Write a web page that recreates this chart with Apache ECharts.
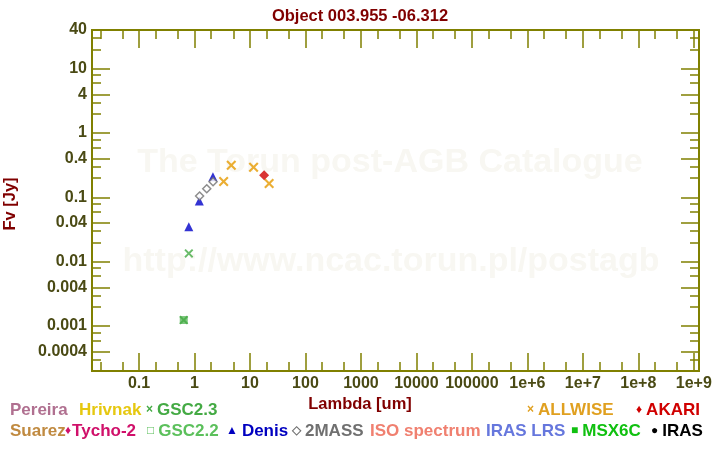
<!DOCTYPE html>
<html><head><meta charset="utf-8">
<script src="https://cdn.jsdelivr.net/npm/echarts@6/dist/echarts.min.js"></script>
<style>html,body{margin:0;padding:0;background:#fff}#c{width:720px;height:450px}</style>
</head><body><div id="c"></div>
<script>
// ---- data ----
const titleText = 'Object 003.955 -06.312';
const xAxisTitle = 'Lambda [um]';
const yAxisTitle = 'Fv [Jy]';
const xTickValues = [0.1, 1, 10, 100, 1000, 1e4, 1e5, 1e6, 1e7, 1e8, 1e9];
const xTickLabels = ['0.1', '1', '10', '100', '1000', '10000', '100000', '1e+6', '1e+7', '1e+8', '1e+9'];
const xMinorValues = [0.02, 0.05, 0.2, 0.5, 2, 5, 20, 50, 200, 500, 2000, 5000, 2e4, 5e4, 2e5, 5e5, 2e6, 5e6, 2e7, 5e7, 2e8, 5e8];
const yTickValues = [40, 10, 4, 1, 0.4, 0.1, 0.04, 0.01, 0.004, 0.001, 0.0004];
const yTickLabels = ['40', '10', '4', '1', '0.4', '0.1', '0.04', '0.01', '0.004', '0.001', '0.0004'];
const yMinorValues = [30, 20, 8, 6, 3, 2, 0.8, 0.6, 0.3, 0.2, 0.08, 0.06, 0.03, 0.02, 0.008, 0.006, 0.003, 0.002, 0.0008, 0.0006, 0.0003];

const allwiseX = [3.35, 4.6, 11.6, 22.1];
const allwiseY = [0.177, 0.315, 0.293, 0.165];
const akariX = [18];
const akariY = [0.22];
const denisX = [0.79, 1.22, 2.15];
const denisY = [0.0349, 0.0877, 0.209];
const twomassX = [1.235, 1.662, 2.159];
const twomassY = [0.105, 0.136, 0.175];
const gsc23X = [0.79, 0.64];
const gsc23Y = [0.01346, 0.00124];
const gsc22X = [0.64];
const gsc22Y = [0.00124];

const legendRow1 = [
  ['', 'Pereira', '#b07090'], ['', 'Hrivnak', '#e6c810'], ['×', 'GSC2.3', '#44aa44'],
  ['×', 'ALLWISE', '#e0a020'], ['♦', 'AKARI', '#d00000']
];
const legendRow2 = [
  ['', 'Suarez', '#c08a40'], ['♦', 'Tycho-2', '#d0106a'], ['□', 'GSC2.2', '#5cc05c'],
  ['▲', 'Denis', '#0000c0'], ['◇', '2MASS', '#707070'], ['', 'ISO spectrum', '#f08070'],
  ['', 'IRAS LRS', '#6677dd'], ['■', 'MSX6C', '#10c010'], ['●', 'IRAS', '#000000']
];
const legendRow1X = [10, 79, 146, 527, 636];
const legendRow2X = [10, 65, 147, 226, 292, 370, 486, 571, 651];
const legendRow2Pad = [4, 1, 4, 4, 4, 4, 4, 4, 4];

// ---- styling ----
const FONT = '"Liberation Sans", Arial, sans-serif';
const AXIS_COLOR = '#808000';
const LABEL_COLOR = '#4a4a14';
const XMIN = 0.0142, XMAX = 1.24e9, YMIN = 0.0002, YMAX = 40;
const XSYM = 'path://M0,1.5L1.5,0L5,3.5L8.5,0L10,1.5L6.5,5L10,8.5L8.5,10L5,6.5L1.5,10L0,8.5L3.5,5Z';

function pair(xs, ys) { return xs.map((x, i) => [x, ys[i]]); }
function findLabel(v, vals, labs) {
  for (let i = 0; i < vals.length; i++) {
    if (Math.abs(Math.log10(v) - Math.log10(vals[i])) < 1e-4) return labs[i];
  }
  return '';
}

function makeAxis(kind, pos, major) {
  const isX = kind === 'x';
  const vals = isX ? (major ? xTickValues : xMinorValues) : (major ? yTickValues : yMinorValues);
  const showLabel = major && (pos === 'bottom' || pos === 'left');
  return {
    type: 'log', logBase: 10,
    min: isX ? XMIN : YMIN, max: isX ? XMAX : YMAX,
    position: pos,
    axisLine: { show: true, onZero: false, lineStyle: { color: AXIS_COLOR, width: 2 } },
    axisTick: { show: true, inside: true, length: major ? 18 : 9, customValues: vals,
      lineStyle: { color: AXIS_COLOR, width: 1.5 } },
    minorTick: { show: false },
    axisLabel: showLabel ? {
      show: true, customValues: vals, hideOverlap: false,
      formatter: v => isX ? findLabel(v, xTickValues, xTickLabels) : findLabel(v, yTickValues, yTickLabels),
      color: LABEL_COLOR, fontSize: 16, fontWeight: 'bold', fontFamily: FONT, margin: 5
    } : { show: false },
    splitLine: { show: false },
    silent: true
  };
}

const legendGraphics = [];
function addRow(row, xs, y, pads) {
  row.forEach((it, i) => {
    legendGraphics.push({
      type: 'text', x: xs[i], y: y, silent: true,
      style: {
        text: (it[0] ? '{s|' + it[0] + '}' : '') + '{t|' + it[1] + '}',
        verticalAlign: 'middle',
        rich: {
          s: { fill: it[2], fontSize: 12, fontFamily: FONT, fontWeight: 'bold', padding: [0, pads ? pads[i] : 4, 0, 0] },
          t: { fill: it[2], fontSize: 17, fontFamily: FONT, fontWeight: 'bold' }
        }
      }
    });
  });
}
addRow(legendRow1, legendRow1X, 410);
addRow(legendRow2, legendRow2X, 431, legendRow2Pad);

const chart = echarts.init(document.getElementById('c'), null, { renderer: 'canvas' });
chart.setOption({
  animation: false,
  backgroundColor: '#ffffff',
  title: {
    text: titleText, left: 'center', top: 3,
    textStyle: { color: '#800000', fontSize: 16.5, fontWeight: 'bold', fontFamily: FONT }
  },
  grid: { left: 92, right: 21, top: 30, bottom: 79, containLabel: false },
  xAxis: [makeAxis('x', 'bottom', true), makeAxis('x', 'bottom', false), makeAxis('x', 'top', true), makeAxis('x', 'top', false)],
  yAxis: [makeAxis('y', 'left', true), makeAxis('y', 'left', false), makeAxis('y', 'right', true), makeAxis('y', 'right', false)],
  graphic: [
    { type: 'text', x: 390, y: 163, z: -10, silent: true,
      style: { text: 'The Torun post-AGB Catalogue', align: 'center', verticalAlign: 'middle',
        fill: '#f8f7f2', font: 'bold 34px ' + FONT } },
    { type: 'text', x: 391, y: 262, z: -10, silent: true,
      style: { text: 'http://www.ncac.torun.pl/postagb', align: 'center', verticalAlign: 'middle',
        fill: '#f8f7f2', font: 'bold 34px ' + FONT } },
    { type: 'text', x: 360, y: 404, silent: true,
      style: { text: xAxisTitle, align: 'center', verticalAlign: 'middle',
        fill: '#800000', font: 'bold 16.5px ' + FONT } },
    { type: 'text', x: 10, y: 204, rotation: Math.PI / 2, silent: true,
      style: { text: yAxisTitle, align: 'center', verticalAlign: 'middle',
        fill: '#800000', font: 'bold 16.5px ' + FONT } }
  ].concat(legendGraphics),
  series: [
    { type: 'scatter', name: 'GSC2.2', data: pair(gsc22X, gsc22Y), symbol: 'rect', symbolSize: 8,
      itemStyle: { color: '#5cb85c' } },
    { type: 'scatter', name: 'GSC2.3', data: pair(gsc23X, gsc23Y), symbol: XSYM, symbolSize: 9,
      itemStyle: { color: '#44aa44' } },
    { type: 'scatter', name: 'Denis', data: pair(denisX, denisY), symbol: 'triangle', symbolSize: 9,
      itemStyle: { color: '#0000c8' } },
    { type: 'scatter', name: '2MASS', data: pair(twomassX, twomassY), symbol: 'diamond', symbolSize: 8,
      itemStyle: { color: '#ffffff', borderColor: '#707070', borderWidth: 1.5 } },
    { type: 'scatter', name: 'ALLWISE', data: pair(allwiseX, allwiseY), symbol: XSYM, symbolSize: 10,
      itemStyle: { color: '#e69a00' } },
    { type: 'scatter', name: 'AKARI', data: pair(akariX, akariY), symbol: 'diamond', symbolSize: 10,
      itemStyle: { color: '#d00000' } }
  ]
});
</script></body></html>
